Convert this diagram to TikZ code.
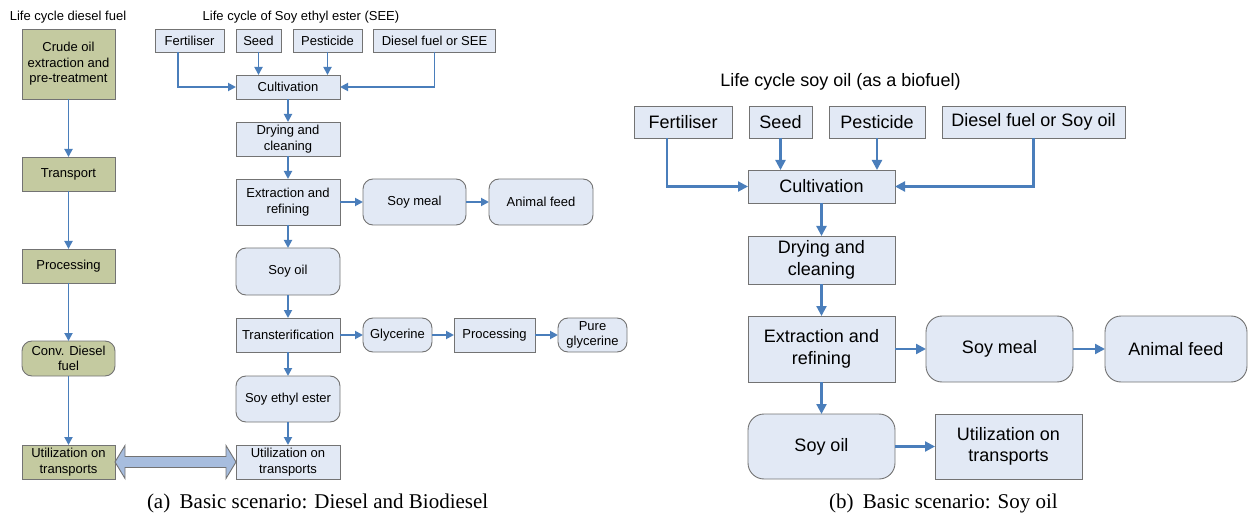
\documentclass[tikz,border=0pt]{standalone}
\usepackage{fontspec}
\setmainfont{Liberation Sans}
\newfontfamily\capfont{Liberation Serif}
\usetikzlibrary{calc,arrows.meta}
\definecolor{flow}{RGB}{74,126,187}
\definecolor{bluefill}{RGB}{226,233,245}
\definecolor{greenfill}{RGB}{196,202,160}
\definecolor{edgegray}{RGB}{115,115,115}
\definecolor{dblfill}{RGB}{167,189,222}
\begin{document}
\begin{tikzpicture}[x=1pt,y=-1pt,
  every node/.style={inner sep=0pt, outer sep=0pt},
  sa/.style={font=\fontsize{13}{15.5}\selectfont, align=center},
  sb/.style={font=\fontsize{18}{21.5}\selectfont, align=center},
  capt/.style={font=\capfont\fontsize{21}{24}\selectfont},
  bbox/.style={draw=edgegray, line width=0.9pt, fill=bluefill},
  gbox/.style={draw=edgegray, line width=0.9pt, fill=greenfill},
  rnda/.style={rounded corners=10pt},
  rndb/.style={rounded corners=16pt},
  arra/.style={draw=flow, line width=1.8pt, -{Triangle[length=8pt,width=8pt]}},
  arrb/.style={draw=flow, line width=2.2pt, -{Triangle[length=10pt,width=10pt]}},
  dbl/.style={draw=edgegray, line width=0.9pt, fill=dblfill}
]
\useasboundingbox (0,0) rectangle (1248,513);

% ---------- Panel (a): diesel ----------
\node[sa] (t1) at (68,17) {Life cycle diesel fuel};
\node[gbox, sa, minimum width=93pt, minimum height=70pt] (crude) at (68.5,64) {Crude oil\\extraction and\\pre-treatment};
\node[gbox, sa, minimum width=93pt, minimum height=34pt] (transp) at (68.5,174) {Transport};
\node[gbox, sa, minimum width=93pt, minimum height=34pt] (procg) at (68.5,266) {Processing};
\node[gbox, rnda, sa, minimum width=93pt, minimum height=35pt] (conv) at (68.5,358.5) {Conv. Diesel\\fuel};
\node[gbox, sa, minimum width=93pt, minimum height=34pt] (utilg) at (68.5,462) {Utilization on\\transports};
\draw[arra] (crude) -- (transp);
\draw[arra] (transp) -- (procg);
\draw[arra] (procg) -- (conv);
\draw[arra] (conv) -- (utilg);

% ---------- Panel (a): SEE ----------
\node[sa] (t2) at (301,17) {Life cycle of Soy ethyl ester (SEE)};
\node[bbox, sa, minimum width=69pt, minimum height=23pt] (fert1) at (189.5,40.5) {Fertiliser};
\node[bbox, sa, minimum width=45pt, minimum height=23pt] (seed1) at (258.5,40.5) {Seed};
\node[bbox, sa, minimum width=69pt, minimum height=23pt] (pest1) at (327.5,40.5) {Pesticide};
\node[bbox, sa, minimum width=122pt, minimum height=23pt] (dsl1) at (434.5,40.5) {Diesel fuel or SEE};
\node[bbox, sa, minimum width=104pt, minimum height=24pt] (cult1) at (288,87) {Cultivation};
\node[bbox, sa, minimum width=104pt, minimum height=34pt] (dry1) at (288,139) {Drying and\\cleaning};
\node[bbox, sa, minimum width=104pt, minimum height=46pt] (ext1) at (288,202) {Extraction and\\refining};
\node[bbox, rnda, sa, minimum width=103pt, minimum height=46pt] (meal1) at (414.5,202) {Soy meal};
\node[bbox, rnda, sa, minimum width=104pt, minimum height=46pt] (feed1) at (541,202) {Animal feed};
\node[bbox, rnda, sa, minimum width=104pt, minimum height=47pt] (oil1) at (288,271.5) {Soy oil};
\node[bbox, sa, minimum width=104pt, minimum height=34pt] (trans1) at (288,335) {Transterification};
\node[bbox, rnda, sa, minimum width=69pt, minimum height=34pt] (glyc) at (397.5,335) {Glycerine};
\node[bbox, sa, minimum width=81pt, minimum height=34pt] (proc1) at (494.5,335) {Processing};
\node[bbox, rnda, sa, minimum width=69pt, minimum height=34pt] (pure) at (592.5,335) {Pure\\glycerine};
\node[bbox, rnda, sa, minimum width=104pt, minimum height=46pt] (ester) at (288,399) {Soy ethyl ester};
\node[bbox, sa, minimum width=104pt, minimum height=34pt] (utilb1) at (288,462) {Utilization on\\transports};

\draw[arra] ([xshift=-11.5pt]fert1.south) |- (cult1.west);
\draw[arra] (seed1.south) -- (seed1.south |- cult1.north);
\draw[arra] (pest1.south) -- (pest1.south |- cult1.north);
\draw[arra] (dsl1.south) |- (cult1.east);
\draw[arra] (cult1) -- (dry1);
\draw[arra] (dry1) -- (ext1);
\draw[arra] (ext1) -- (meal1);
\draw[arra] (meal1) -- (feed1);
\draw[arra] (ext1) -- (oil1);
\draw[arra] (oil1) -- (trans1);
\draw[arra] (trans1) -- (glyc);
\draw[arra] (glyc) -- (proc1);
\draw[arra] (proc1) -- (pure);
\draw[arra] (trans1) -- (ester);
\draw[arra] (ester) -- (utilb1);

% double arrow
\draw[dbl] (utilg.east) -- ++(10,-16.5) -- ++(0,11)
  -- ($(utilb1.west)+(-10,-5.5)$) -- ++(0,-11) -- (utilb1.west)
  -- ++(-10,16.5) -- ++(0,-11) -- ($(utilg.east)+(10,5.5)$) -- ++(0,11) -- cycle;

\node[capt, anchor=base west] (capa) at (147,508) {(a)\hspace{0.45em}Basic scenario: Diesel and Biodiesel};

% ---------- Panel (b) ----------
\node[sb] (t3) at (840.5,82) {Life cycle soy oil (as a biofuel)};
\node[bbox, sb, minimum width=98pt, minimum height=32pt] (fert2) at (683,122) {Fertiliser};
\node[bbox, sb, minimum width=63pt, minimum height=32pt] (seed2) at (780.5,122) {Seed};
\node[bbox, sb, minimum width=96pt, minimum height=32pt] (pest2) at (877,122) {Pesticide};
\node[bbox, sb, minimum width=183pt, minimum height=32pt] (dsl2) at (1033.5,122) {Diesel fuel or Soy oil};
\node[bbox, sb, minimum width=147pt, minimum height=33pt] (cult2) at (821.5,186.5) {Cultivation};
\node[bbox, sb, minimum width=147pt, minimum height=48pt] (dry2) at (821.5,260) {Drying and\\cleaning};
\node[bbox, sb, minimum width=147pt, minimum height=66pt] (ext2) at (821.5,349) {Extraction and\\refining};
\node[bbox, rndb, sb, minimum width=147pt, minimum height=66pt] (meal2) at (999.5,349) {Soy meal};
\node[bbox, rndb, sb, minimum width=142pt, minimum height=66pt] (feed2) at (1176,349) {Animal feed};
\node[bbox, rndb, sb, minimum width=147pt, minimum height=65pt] (oil2) at (821.5,446.5) {Soy oil};
\node[bbox, sb, minimum width=147pt, minimum height=65pt] (util2) at (1008.5,446.5) {Utilization on\\transports};

\draw[arrb] ([xshift=-16pt]fert2.south) |- (cult2.west);
\draw[arrb] (seed2.south) -- (seed2.south |- cult2.north);
\draw[arrb] (pest2.south) -- (pest2.south |- cult2.north);
\draw[arrb] (dsl2.south) |- (cult2.east);
\draw[arrb] (cult2) -- (dry2);
\draw[arrb] (dry2) -- (ext2);
\draw[arrb] (ext2) -- (meal2);
\draw[arrb] (meal2) -- (feed2);
\draw[arrb] (ext2) -- (oil2);
\draw[arrb] (oil2) -- (util2);

\node[capt, anchor=base west] (capb) at (829,508) {(b)\hspace{0.45em}Basic scenario: Soy oil};
\end{tikzpicture}
\end{document}
